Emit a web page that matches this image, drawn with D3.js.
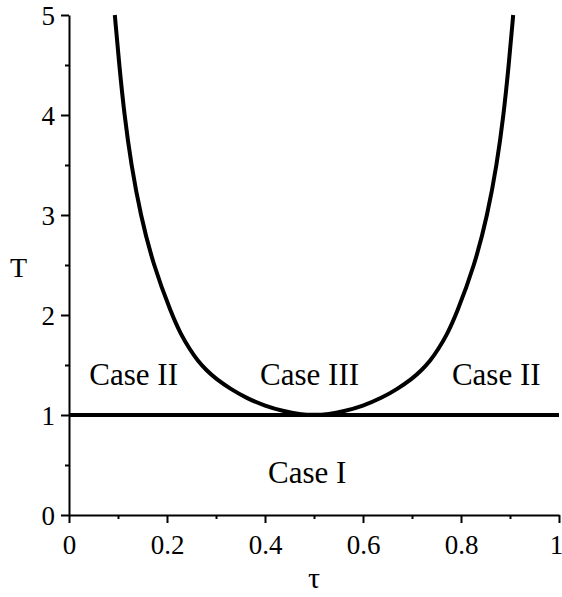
<!DOCTYPE html>
<html>
<head>
<meta charset="utf-8">
<script src="https://cdn.jsdelivr.net/npm/d3@7"></script>
<style>
  body { margin: 0; background: #fff; }
  svg text { font-family: "Liberation Serif", "Times New Roman", Times, "DejaVu Serif", "Noto Serif", serif; fill: #000; }
</style>
</head>
<body>
<div id="chart"></div>
<script>
// values
var tauValues = [0.0935, 0.1025, 0.113, 0.127, 0.146, 0.172, 0.210, 0.228, 0.246, 0.263, 0.280, 0.300, 0.330, 0.362, 0.400, 0.440, 0.470, 0.500,
                 0.530, 0.560, 0.600, 0.638, 0.670, 0.700, 0.720, 0.737, 0.754, 0.772, 0.790, 0.828, 0.854, 0.873, 0.887, 0.8975, 0.9065];
var tValues   = [5.00, 4.50, 4.00, 3.50, 3.00, 2.50, 2.00, 1.81, 1.66, 1.54, 1.45, 1.36, 1.26, 1.17, 1.09, 1.035, 1.008, 1.00,
                 1.008, 1.035, 1.09, 1.17, 1.26, 1.36, 1.45, 1.54, 1.66, 1.81, 2.00, 2.50, 3.00, 3.50, 4.00, 4.50, 5.00];
var boundaryTau = [0, 1];
var boundaryT = [1, 1];

var xTicks = [0, 0.2, 0.4, 0.6, 0.8, 1];
var xTickLabels = ["0", "0.2", "0.4", "0.6", "0.8", "1"];
var xMinorTicks = [0.1, 0.3, 0.5, 0.7, 0.9];
var yTicks = [0, 1, 2, 3, 4, 5];
var yMinorTicks = [0.5, 1.5, 2.5, 3.5, 4.5];

var caseLabels = ["Case II", "Case III", "Case II", "Case I"];
var caseTau = [0.132, 0.491, 0.872, 0.486];
var caseT = [1.30, 1.30, 1.30, 0.32];

// layout
var svgWidth = 562, svgHeight = 597;
var margin = { top: 15, left: 69, right: 3, bottom: 82 };
var plotWidth = 490;
var plotHeight = 500;

var svg = d3.select("#chart").append("svg")
  .attr("width", svgWidth)
  .attr("height", svgHeight);

var g = svg.append("g")
  .attr("transform", `translate(${margin.left}, ${margin.top})`);

var x = d3.scaleLinear().domain([0, 1]).range([0, plotWidth]);
var y = d3.scaleLinear().domain([0, 5]).range([plotHeight, 0]);

// T = 1 boundary and the U-shaped curve
g.append("path")
  .datum(boundaryTau.map((t, i) => [t, boundaryT[i]]))
  .attr("d", d3.line().x(d => x(d[0])).y(d => y(d[1])))
  .attr("fill", "none")
  .attr("stroke", "#000")
  .attr("stroke-width", 4);

// basis curve smooths out small reading errors
var line = d3.line()
  .x(d => x(d[0]))
  .y(d => y(d[1]))
  .curve(d3.curveBasis);

g.append("path")
  .datum(tauValues.map((t, i) => [t, tValues[i]]))
  .attr("d", line)
  .attr("fill", "none")
  .attr("stroke", "#000")
  .attr("stroke-width", 4);

// axes
var xAxis = g.append("g")
  .attr("transform", `translate(0, ${plotHeight})`)
  .call(d3.axisBottom(x).tickValues(xTicks).tickSize(8).tickSizeOuter(0)
    .tickFormat((d, i) => xTickLabels[i]).tickPadding(12));
g.append("g")
  .attr("transform", `translate(0, ${plotHeight})`)
  .call(d3.axisBottom(x).tickValues(xMinorTicks).tickSize(4).tickSizeOuter(0).tickFormat(""))
  .select(".domain").remove();

var yAxis = g.append("g")
  .call(d3.axisLeft(y).tickValues(yTicks).tickSize(8).tickSizeOuter(0)
    .tickFormat(d3.format("d")).tickPadding(6));
g.append("g")
  .call(d3.axisLeft(y).tickValues(yMinorTicks).tickSize(4).tickSizeOuter(0).tickFormat(""))
  .select(".domain").remove();

g.selectAll("g").attr("font-family", null).attr("font-size", null);

g.selectAll(".domain, .tick line")
  .attr("stroke", "#000")
  .attr("stroke-width", 2);

xAxis.selectAll("text").style("font-size", "27px");
// keep the last label inside the window
xAxis.selectAll("text").filter(d => d === 1).attr("dx", "-3");
yAxis.selectAll("text")
  .style("font-size", "27px")
  .attr("dy", "0.36em");

// axis titles
svg.append("text")
  .attr("x", margin.left + plotWidth / 2)
  .attr("y", 588)
  .attr("text-anchor", "middle")
  .style("font-size", "30px")
  .text("τ");

svg.append("text")
  .attr("x", 18.5)
  .attr("y", 277)
  .attr("text-anchor", "middle")
  .style("font-size", "28px")
  .text("T");

// region labels
g.selectAll(".case")
  .data(caseLabels)
  .enter()
  .append("text")
  .attr("class", "case")
  .attr("x", (d, i) => x(caseTau[i]))
  .attr("y", (d, i) => y(caseT[i]))
  .attr("text-anchor", "middle")
  .style("font-size", "31px")
  .text(d => d);
</script>
</body>
</html>
